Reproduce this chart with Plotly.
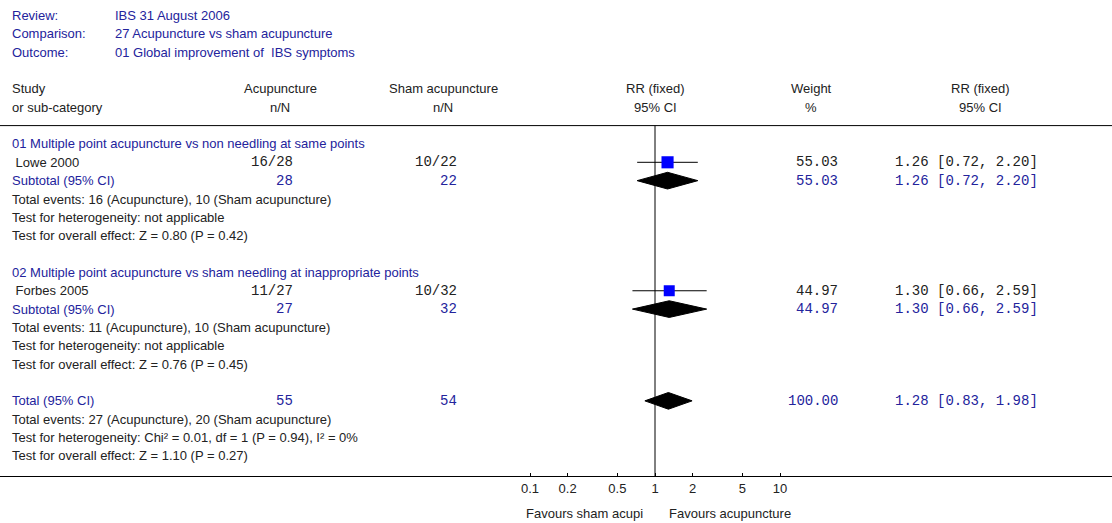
import plotly.graph_objects as go

# header info
info_labels = ["Review:", "Comparison:", "Outcome:"]
info_values = ["IBS 31 August 2006", "27 Acupuncture vs sham acupuncture", "01 Global improvement of  IBS symptoms"]

# studies
group_titles = ["01 Multiple point acupuncture vs non needling at same points",
                "02 Multiple point acupuncture vs sham needling at inappropriate points"]
studies = ["Lowe 2000", "Forbes 2005"]
acu_events = [16, 11]
acu_total = [28, 27]
sham_events = [10, 10]
sham_total = [22, 32]
weights = [55.03, 44.97]
rr = [1.26, 1.30]
rr_lo = [0.72, 0.66]
rr_hi = [2.20, 2.59]

# subtotals (one study per group)
sub_rr = [1.26, 1.30]
sub_lo = [0.72, 0.66]
sub_hi = [2.20, 2.59]
sub_z = ["Z = 0.80 (P = 0.42)", "Z = 0.76 (P = 0.45)"]

# overall
total_acu = 55
total_sham = 54
total_events = [27, 20]
total_rr = 1.28
total_lo = 0.83
total_hi = 1.98
total_het = "Chi² = 0.01, df = 1 (P = 0.94), I² = 0%"
total_z = "Z = 1.10 (P = 0.27)"

tick_vals = [0.1, 0.2, 0.5, 1, 2, 5, 10]
tick_text = ["0.1", "0.2", "0.5", "1", "2", "5", "10"]

W, H = 1112, 523
BLUE = "#23239c"
DARK = "#222222"
SANS = "Liberation Sans, Arial, sans-serif"
MONO = "Liberation Mono, Courier New, monospace"
FS = 13
MS = 14

fig = go.Figure()
ann = []


def px(x):
    return x / W


def txt(x, row, s, color=DARK, anchor="left", font=SANS, size=FS):
    ann.append(dict(x=px(x), xref="paper", y=row, yref="y", text=s, showarrow=False,
                    xanchor=anchor, yanchor="middle",
                    font=dict(family=font, size=size, color=color)))


def fmt_ci(e, lo, hi):
    return f"{e:.2f} [{lo:.2f}, {hi:.2f}]"


def diamond(row, e, lo, hi, h=0.455):
    fig.add_trace(go.Scatter(x=[lo, e, hi, e, lo], y=[row, row - h, row, row + h, row],
                             mode="lines", fill="toself", fillcolor="black",
                             line=dict(color="black", width=1), hoverinfo="skip"))


for i, (lab, val) in enumerate(zip(info_labels, info_values)):
    txt(10, i, lab, BLUE)
    txt(113, i, val, BLUE)

# column headers
txt(10, 4, "Study")
txt(10, 5, "or sub-category")
txt(280, 4, "Acupuncture", anchor="center")
txt(280, 5, "n/N", anchor="center")
txt(443, 4, "Sham acupuncture", anchor="center")
txt(443, 5, "n/N", anchor="center")
txt(655, 4, "RR (fixed)", anchor="center")
txt(655, 5, "95% CI", anchor="center")
txt(811, 4, "Weight", anchor="center")
txt(811, 5, "%", anchor="center")
txt(980, 4, "RR (fixed)", anchor="center")
txt(980, 5, "95% CI", anchor="center")

for g in range(2):
    base = 7 + g * 7
    txt(10, base, group_titles[g], BLUE)
    r = base + 1
    txt(10, r, " " + studies[g])
    txt(295, r, f"{acu_events[g]}/{acu_total[g]}", anchor="right", font=MONO, size=MS)
    txt(459, r, f"{sham_events[g]}/{sham_total[g]}", anchor="right", font=MONO, size=MS)
    txt(840, r, f"{weights[g]:.2f}", anchor="right", font=MONO, size=MS)
    txt(893, r, fmt_ci(rr[g], rr_lo[g], rr_hi[g]), font=MONO, size=MS)
    fig.add_trace(go.Scatter(x=[rr_lo[g], rr_hi[g]], y=[r, r], mode="lines",
                             line=dict(color="black", width=1), hoverinfo="skip"))
    # square size grows with study weight
    fig.add_trace(go.Scatter(x=[rr[g]], y=[r], mode="markers",
                             marker=dict(symbol="square", size=6 + weights[g] / 9,
                                         color="#0000ff", line=dict(width=0)),
                             hoverinfo="skip"))
    r += 1
    txt(10, r, "Subtotal (95% CI)", BLUE)
    txt(295, r, str(acu_total[g]), BLUE, "right", MONO, MS)
    txt(459, r, str(sham_total[g]), BLUE, "right", MONO, MS)
    txt(840, r, f"{weights[g]:.2f}", BLUE, "right", MONO, MS)
    txt(893, r, fmt_ci(sub_rr[g], sub_lo[g], sub_hi[g]), BLUE, "left", MONO, MS)
    diamond(r, sub_rr[g], sub_lo[g], sub_hi[g])
    txt(10, r + 1, f"Total events: {acu_events[g]} (Acupuncture), {sham_events[g]} (Sham acupuncture)")
    txt(10, r + 2, "Test for heterogeneity: not applicable")
    txt(10, r + 3, f"Test for overall effect: {sub_z[g]}")

txt(10, 21, "Total (95% CI)", BLUE)
txt(295, 21, str(total_acu), BLUE, "right", MONO, MS)
txt(459, 21, str(total_sham), BLUE, "right", MONO, MS)
txt(840, 21, f"{sum(weights):.2f}", BLUE, "right", MONO, MS)
txt(893, 21, fmt_ci(total_rr, total_lo, total_hi), BLUE, "left", MONO, MS)
diamond(21, total_rr, total_lo, total_hi)
txt(10, 22, f"Total events: {total_events[0]} (Acupuncture), {total_events[1]} (Sham acupuncture)")
txt(10, 23, f"Test for heterogeneity: {total_het}")
txt(10, 24, f"Test for overall effect: {total_z}")

# favours labels under the axis
ann.append(dict(x=px(645), xref="paper", y=0, yref="paper", yshift=-37, text="Favours sham acupi",
                showarrow=False, xanchor="right", yanchor="middle",
                font=dict(family=SANS, size=FS, color=DARK)))
ann.append(dict(x=px(667), xref="paper", y=0, yref="paper", yshift=-37, text="Favours acupuncture",
                showarrow=False, xanchor="left", yanchor="middle",
                font=dict(family=SANS, size=FS, color=DARK)))

# line of no effect
fig.add_trace(go.Scatter(x=[1, 1], y=[6, 25.2], mode="lines",
                         line=dict(color="black", width=1), hoverinfo="skip"))

# header rule
fig.add_shape(type="line", xref="paper", x0=0, x1=1, yref="y", y0=6, y1=6,
              line=dict(color="black", width=1))

s = 18.35
top = 15.5
plot_h = 476
fig.update_layout(
    width=W, height=H,
    margin=dict(l=0, r=0, t=0, b=H - plot_h),
    paper_bgcolor="white", plot_bgcolor="white",
    showlegend=False,
    annotations=ann,
    xaxis=dict(type="log", range=[-655 / 125, (W - 655) / 125],
               showgrid=False, zeroline=False,
               showline=True, linecolor="black", linewidth=1,
               tickvals=tick_vals, ticktext=tick_text,
               ticks="inside", ticklen=3, tickcolor="black",
               tickfont=dict(family=SANS, size=FS, color=DARK)),
    yaxis=dict(range=[(plot_h - top) / s, -top / s], visible=False,
               showgrid=False, zeroline=False),
)

# drop the default page margin so the figure sits at the window's top-left
fig.write_html("out.html", config={"displayModeBar": False},
               post_script="document.body.style.margin='0';")
